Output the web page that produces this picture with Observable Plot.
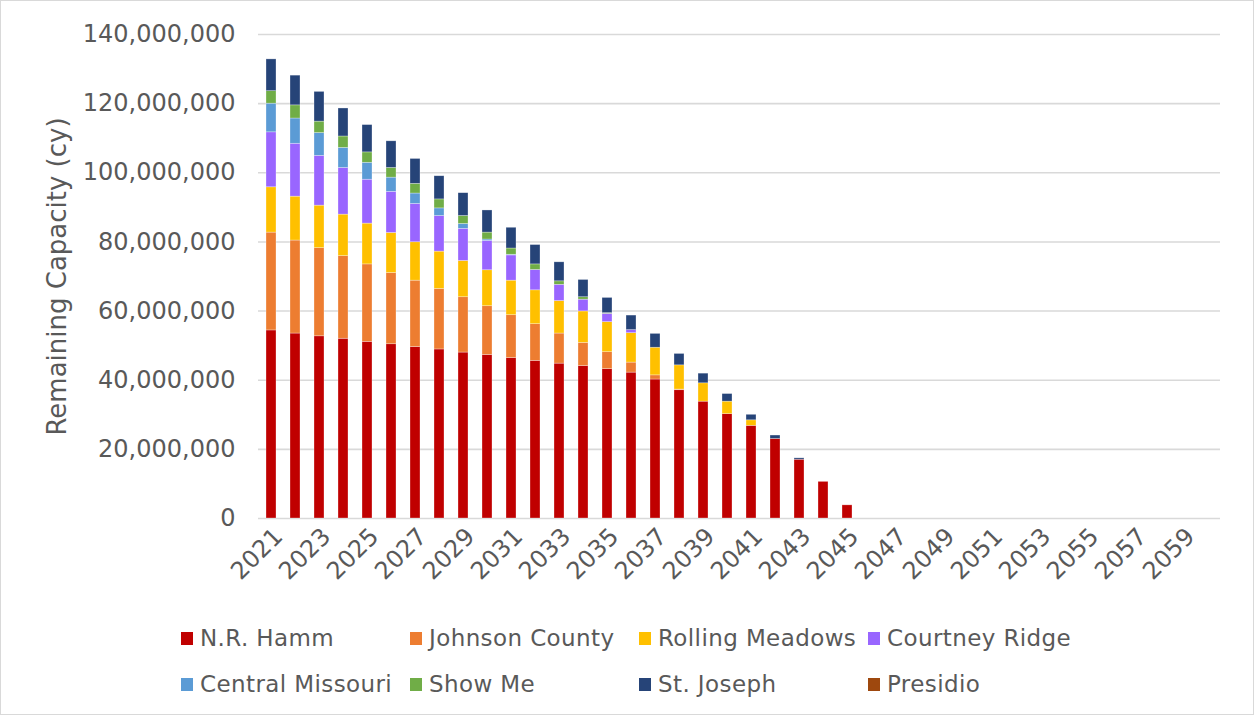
<!DOCTYPE html>
<html>
<head>
<meta charset="utf-8">
<script src="https://cdn.jsdelivr.net/npm/d3@7"></script>
<script src="https://cdn.jsdelivr.net/npm/@observablehq/plot@0.6"></script>
<style>
  html, body { margin: 0; padding: 0; background: #fff; }
  #frame {
    position: relative; width: 1254px; height: 715px; box-sizing: border-box;
    border: 1px solid #d9d9d9; overflow: hidden; font-family: "DejaVu Sans", sans-serif;
  }
  #chart svg { display: block; }
  #legend {
    position: absolute; left: 180px; top: 614px;
    display: grid; grid-template-columns: repeat(4, 229px); grid-auto-rows: 46px;
    color: #595959; font-size: 23px; letter-spacing: 0.4px;
  }
  .item { display: flex; align-items: center; white-space: nowrap; }
  .sw { width: 12px; height: 13px; margin-right: 7px; flex: none; }
</style>
</head>
<body>
<div id="frame">
  <div id="chart"></div>
  <div id="legend"></div>
</div>
<script>
// Categories (years)
const years = [2021,2022,2023,2024,2025,2026,2027,2028,2029,2030,
               2031,2032,2033,2034,2035,2036,2037,2038,2039,2040,
               2041,2042,2043,2044,2045,2046,2047,2048,2049,2050,
               2051,2052,2053,2054,2055,2056,2057,2058,2059,2060];
const tickYears = [2021,2023,2025,2027,2029,2031,2033,2035,2037,2039,
                   2041,2043,2045,2047,2049,2051,2053,2055,2057,2059];
const yTicks = [0, 20000000, 40000000, 60000000, 80000000, 100000000, 120000000, 140000000];

// Series values, in millions of cubic yards
const nrHamm = [54.4,53.5,52.7,52.0,51.1,50.4,49.6,48.9,48.0,47.3,
                46.4,45.6,44.8,44.1,43.2,42.2,40.2,37.1,33.8,30.2,
                26.8,23.0,17.0,10.6,3.8,0,0,0,0,0,
                0,0,0,0,0,0,0,0,0,0];
const johnsonCounty = [28.3,26.9,25.5,23.9,22.4,20.6,19.2,17.5,16.0,14.1,
                       12.4,10.6,8.7,6.7,4.9,2.9,1.2,0.2,0,0,
                       0,0,0,0,0,0,0,0,0,0,
                       0,0,0,0,0,0,0,0,0,0];
const rollingMeadows = [13.1,12.7,12.3,12.0,11.8,11.6,11.1,10.8,10.5,10.4,
                        10.0,9.8,9.4,9.1,8.7,8.5,8.0,7.0,5.3,3.6,
                        1.6,0,0,0,0,0,0,0,0,0,
                        0,0,0,0,0,0,0,0,0,0];
const courtneyRidge = [15.9,15.3,14.4,13.5,12.7,11.9,11.1,10.3,9.3,8.5,
                       7.3,5.9,4.7,3.4,2.4,0.9,0,0,0,0,
                       0,0,0,0,0,0,0,0,0,0,
                       0,0,0,0,0,0,0,0,0,0];
const centralMissouri = [8.3,7.3,6.6,5.8,4.9,4.1,3.0,2.2,1.4,0.4,
                         0.2,0,0,0,0,0,0,0,0,0,
                         0,0,0,0,0,0,0,0,0,0,
                         0,0,0,0,0,0,0,0,0,0];
const showMe = [3.6,3.8,3.3,3.3,3.0,2.8,2.8,2.6,2.3,2.0,
                1.8,1.6,1.0,0.7,0.2,0,0,0,0,0,
                0,0,0,0,0,0,0,0,0,0,
                0,0,0,0,0,0,0,0,0,0];
const stJoseph = [9.2,8.6,8.6,8.1,7.9,7.7,7.2,6.7,6.6,6.4,
                  6.0,5.6,5.5,5.0,4.4,4.2,4.0,3.3,2.8,2.2,
                  1.6,1.0,0.4,0,0,0,0,0,0,0,
                  0,0,0,0,0,0,0,0,0,0];
const presidio = [0,0,0,0,0,0,0,0,0,0,
                  0,0,0,0,0,0,0,0,0,0,
                  0,0,0,0,0,0,0,0,0,0,
                  0,0,0,0,0,0,0,0,0,0];

const seriesNames = ["N.R. Hamm","Johnson County","Rolling Meadows","Courtney Ridge",
                     "Central Missouri","Show Me","St. Joseph","Presidio"];
const seriesValues = [nrHamm, johnsonCounty, rollingMeadows, courtneyRidge,
                      centralMissouri, showMe, stJoseph, presidio];
const seriesColors = ["#C00000","#ED7D31","#FFC000","#9966FF",
                      "#5B9BD5","#70AD47","#264478","#9E480E"];

const rows = [];
seriesNames.forEach((name, si) => {
  years.forEach((yr, i) => {
    rows.push({year: yr, site: name, value: seriesValues[si][i] * 1e6});
  });
});

const textColor = "#595959";
const chart = Plot.plot({
  width: 1252,
  height: 612,
  marginLeft: 257,
  marginRight: 33,
  marginTop: 33,
  marginBottom: 95,
  style: {fontFamily: "DejaVu Sans, sans-serif", color: textColor, background: "#fff"},
  x: {type: "band", domain: years, paddingInner: 0.6, paddingOuter: 0.3},
  y: {domain: [0, 140000000]},
  color: {domain: seriesNames, range: seriesColors},
  marks: [
    Plot.gridY(yTicks, {stroke: "#d9d9d9", strokeOpacity: 1, strokeWidth: 1.6}),
    Plot.barY(rows, {x: "year", y: "value", fill: "site", order: seriesNames,
                     stroke: "#fff", strokeWidth: 0.6, strokeOpacity: 0.5}),
    Plot.axisY({ticks: yTicks, tickSize: 0, tickPadding: 23, tickFormat: d3.format(","),
                fontSize: 24, fill: textColor, label: null}),
    Plot.axisX({ticks: tickYears, tickSize: 0, tickPadding: 14, tickRotate: -45,
                tickFormat: d => String(d),
                fontSize: 24, fill: textColor, label: null, dx: 7}),
    Plot.text(["Remaining Capacity (cy)"], {frameAnchor: "left", rotate: -90, dx: -201,
                textAnchor: "middle", fontSize: 26, fill: textColor})
  ]
});
document.getElementById("chart").appendChild(chart);

const legend = document.getElementById("legend");
seriesNames.forEach((name, i) => {
  const item = document.createElement("div");
  item.className = "item";
  const sw = document.createElement("span");
  sw.className = "sw";
  sw.style.background = seriesColors[i];
  const label = document.createElement("span");
  label.textContent = name;
  item.appendChild(sw);
  item.appendChild(label);
  legend.appendChild(item);
});
</script>
</body>
</html>
